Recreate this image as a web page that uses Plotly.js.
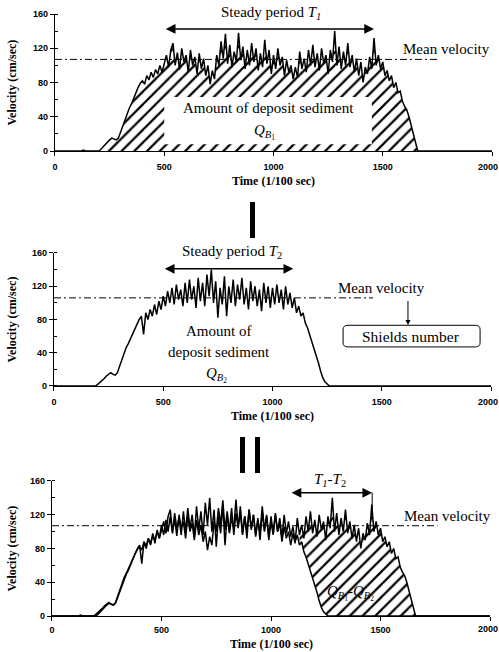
<!DOCTYPE html>
<html>
<head>
<meta charset="utf-8">
<script src="https://cdn.plot.ly/plotly-3.0.1.min.js"></script>
<style>html,body{margin:0;padding:0;background:#fff;}</style>
</head>
<body>
<div id="chart" style="width:499px;height:652px;"></div>
<script>
// ---- data ----
const timeStep = 10;              // 1/100 sec
const nSamples = 201;             // 0 .. 2000
const time = [];
for (let i = 0; i < nSamples; i++) time.push(i * timeStep);

// run 1 (steady period T1)
const velocity1 = [
  0,0,0,0,0,0,0,0,0,0,
  0,0,0,1,0,0,0,0,0,0,
  0,2,5,8,11,13,15,14,13,15,
  22,30,38,45,50,55,62,68,74,79,
  82,78,88,83,92,86,95,90,100,92,
  104,112,98,118,126,100,115,95,120,104,
  112,92,118,100,110,90,114,96,108,88,
  100,78,94,84,112,100,128,108,137,102,
  124,98,116,104,138,106,122,96,118,100,
  126,104,120,94,114,98,130,102,118,90,
  112,96,120,100,110,88,106,92,100,84,
  98,86,116,96,108,92,118,100,124,98,
  114,94,120,102,112,90,118,104,140,100,
  122,96,116,100,126,98,112,92,108,88,
  104,80,98,90,110,96,132,100,112,96,
  104,88,94,82,88,74,80,68,70,58,
  52,48,40,30,18,8,0,0,0,0,
  0,0,0,0,0,0,0,0,0,0,
  0,0,0,0,0,0,0,0,0,0,
  0,0,0,0,0,0,0,0,0,0,
  0
];

// run 2 (steady period T2)
const velocity2 = [
  0,0,0,0,0,0,0,0,0,0,
  0,0,0,0,0,0,0,0,0,0,
  2,4,7,9,12,14,16,14,13,16,
  24,32,40,46,51,57,64,70,76,80,
  84,62,88,80,92,84,98,86,102,92,
  108,96,114,100,118,98,122,104,116,96,
  124,100,128,104,120,94,130,102,124,96,
  134,108,140,100,126,82,118,98,132,84,
  120,100,128,96,122,104,130,98,118,92,
  126,102,120,96,116,90,124,100,120,94,
  118,98,122,100,116,92,120,98,112,94,
  106,88,96,84,88,76,70,62,52,44,
  36,28,18,10,5,2,0,0,0,0,
  0,0,0,0,0,0,0,0,0,0,
  0,0,0,0,0,0,0,0,0,0,
  0,0,0,0,0,0,0,0,0,0,
  0,0,0,0,0,0,0,0,0,0,
  0,0,0,0,0,0,0,0,0,0,
  0,0,0,0,0,0,0,0,0,0,
  0,0,0,0,0,0,0,0,0,0,
  0
];

const meanVelocity = [107, 106, 107];     // cm/sec, per panel
const meanLineEnd  = [1750, 1460, 1760];  // time where dash-dot line stops
const periodT1   = [500, 1460];
const periodT2   = [500, 1095];
const periodDiff = [1087, 1462];
const xTicks = [0, 500, 1000, 1500, 2000];
const xTickText = ['0', '500', '1000', '1500', ''];   // last label drawn flush with the page edge
const lastXTickLabel = '2000';
const yTicks = [0, 40, 80, 120, 160];

// ---- helpers ----
const BLACK = '#000';
const serif = 'Liberation Serif, Times New Roman, serif';
const sans = 'Liberation Sans, Arial, sans-serif';

function sliceBy(arr, t0, t1) {
  const out = [];
  for (let i = 0; i < time.length; i++) if (time[i] >= t0 && time[i] <= t1) out.push(arr[i]);
  return out;
}
const hatch = {shape: '/', fgcolor: BLACK, bgcolor: 'white', size: 9, solidity: 0.25};

const traces = [];
// panel 1: hatched area under run 1
traces.push({x: sliceBy(time, 200, 1670), y: sliceBy(velocity1, 200, 1670), xaxis: 'x', yaxis: 'y',
  type: 'scatter', mode: 'lines', line: {width: 0, color: BLACK}, fill: 'tozeroy',
  fillcolor: 'rgba(0,0,0,0)', fillpattern: hatch, hoverinfo: 'skip'});
// panel 3: hatched area between run 2 and run 1
traces.push({x: sliceBy(time, 1130, 1670), y: sliceBy(velocity2, 1130, 1670), xaxis: 'x3', yaxis: 'y3',
  type: 'scatter', mode: 'lines', line: {width: 0, color: BLACK}, hoverinfo: 'skip'});
traces.push({x: sliceBy(time, 1130, 1670), y: sliceBy(velocity1, 1130, 1670), xaxis: 'x3', yaxis: 'y3',
  type: 'scatter', mode: 'lines', line: {width: 0, color: BLACK}, fill: 'tonexty',
  fillcolor: 'rgba(0,0,0,0)', fillpattern: hatch, hoverinfo: 'skip'});

// mean velocity lines
[['x','y'],['x2','y2'],['x3','y3']].forEach((a, k) => {
  traces.push({x: [0, meanLineEnd[k]], y: [meanVelocity[k], meanVelocity[k]], xaxis: a[0], yaxis: a[1],
    type: 'scatter', mode: 'lines', line: {color: BLACK, width: 1, dash: '7px,3px,2px,3px'}, hoverinfo: 'skip'});
});

// velocity curves
const curveLine = {color: BLACK, width: 1.5};
traces.push({x: time, y: velocity1, xaxis: 'x', yaxis: 'y', type: 'scatter', mode: 'lines', line: curveLine});
traces.push({x: time, y: velocity2, xaxis: 'x2', yaxis: 'y2', type: 'scatter', mode: 'lines', line: curveLine});
traces.push({x: time, y: velocity1, xaxis: 'x3', yaxis: 'y3', type: 'scatter', mode: 'lines', line: curveLine});
traces.push({x: time, y: velocity2, xaxis: 'x3', yaxis: 'y3', type: 'scatter', mode: 'lines', line: curveLine});

const tickFont = {family: sans, size: 9, color: BLACK, weight: 'bold'};
const xBase = {range: [0, 2000], tickvals: xTicks, ticktext: xTickText, showline: true, linecolor: BLACK, linewidth: 1.2,
  ticks: 'outside', ticklen: 4, tickwidth: 1, tickcolor: BLACK, showgrid: false, zeroline: false,
  tickfont: tickFont, ticklabelstandoff: 3, fixedrange: true};
const yBase = {range: [0, 160], tickvals: yTicks, showline: true, linecolor: BLACK, linewidth: 1.2,
  ticks: 'outside', ticklen: 4, tickwidth: 1, tickcolor: BLACK, showgrid: false, zeroline: false,
  minor: {ticks: 'inside', ticklen: 3, dtick: 20, tickcolor: BLACK, tickwidth: 1},
  tickfont: tickFont, fixedrange: true};

const dom = {
  x1: [0.1102, 0.9860], y1: [0.7684, 0.9785],
  x2: [0.1082, 0.9840], y2: [0.4080, 0.6120],
  x3: [0.1042, 0.9820], y3: [0.0552, 0.2623]
};

const ann = [];
function label(xr, yr, x, y, text, size, yshift) {
  ann.push({xref: xr, yref: yr, x: x, y: y, text: text, showarrow: false,
    font: {family: serif, size: size || 15, color: BLACK},
    xanchor: 'center', yanchor: 'middle', yshift: yshift || 0});
}
function dblArrow(xr, yr, x0, x1, y) {
  ann.push({xref: xr, yref: yr, axref: xr, ayref: yr, x: x1, y: y, ax: x0, ay: y, text: '',
    showarrow: true, arrowhead: 2, startarrowhead: 2, arrowside: 'end+start', arrowsize: 1.3,
    startarrowsize: 1.3, arrowwidth: 1.5, arrowcolor: BLACK, standoff: 0, startstandoff: 0});
}

// panel 1
label('x', 'y', 990, 160, 'Steady period <i>T</i><sub><i>1</i></sub>', 15, 1);
dblArrow('x', 'y', periodT1[0], periodT1[1], 142.5);
label('x', 'y', 1790, 119, 'Mean velocity');
label('x', 'y', 975, 50, 'Amount of deposit sediment');
label('x', 'y', 960, 22, '<i>Q</i><sub><i>B</i><sub>1</sub></sub>');
// panel 2
label('x2', 'y2', 815, 160, 'Steady period <i>T</i><sub>2</sub>', 15, 1);
dblArrow('x2', 'y2', periodT2[0], periodT2[1], 141);
label('x2', 'y2', 1497, 118, 'Mean velocity');
label('x2', 'y2', 755, 66, 'Amount of');
label('x2', 'y2', 755, 41, 'deposit sediment');
label('x2', 'y2', 745, 13, '<i>Q</i><sub><i>B</i><sub>2</sub></sub>');
label('x2', 'y2', 1634, 60, 'Shields number', 15.5);
ann.push({xref: 'x2', yref: 'y2', axref: 'x2', ayref: 'y2', x: 1620, y: 73.5, ax: 1620, ay: 104,
  text: '', showarrow: true, arrowhead: 2, arrowsize: 1, arrowwidth: 1, arrowcolor: BLACK, standoff: 0});
// panel 3
label('x3', 'y3', 1269, 160, '<i>T</i><sub><i>1</i></sub>-<i>T</i><sub>2</sub>', 15, 1);
dblArrow('x3', 'y3', periodDiff[0], periodDiff[1], 146);
label('x3', 'y3', 1804, 119, 'Mean velocity');
label('x3', 'y3', 1361, 27, '<i>Q</i><sub><i>B</i><sub>1</sub></sub>-<i>Q</i><sub><i>B</i><sub>2</sub></sub>');

// axis titles and the right-most time tick label of each panel
const axTitleFont = {family: serif, size: 12, color: BLACK, weight: 'bold'};
[[dom.x1, dom.y1, 181, 167], [dom.x2, dom.y2, 416, 402], [dom.x3, dom.y3, 644, 629]].forEach(d => {
  ann.push({xref: 'paper', yref: 'paper', x: 12 / 499, y: (d[1][0] + d[1][1]) / 2, text: 'Velocity (cm/sec)',
    textangle: -90, showarrow: false, font: axTitleFont, xanchor: 'center', yanchor: 'middle'});
  ann.push({xref: 'paper', yref: 'paper', x: (d[0][0] + d[0][1]) / 2, y: 1 - d[2] / 652, text: 'Time (1/100 sec)',
    showarrow: false, font: axTitleFont, xanchor: 'center', yanchor: 'middle'});
  ann.push({xref: 'paper', yref: 'paper', x: 1, y: 1 - d[3] / 652, text: lastXTickLabel,
    showarrow: false, font: tickFont, xanchor: 'right', yanchor: 'middle', borderpad: 0, xshift: 0});
});

const shapes = [
  // white background behind the top text block
  {type: 'rect', xref: 'x', yref: 'y', x0: 500, x1: 1450, y0: 8, y1: 63, fillcolor: 'white',
    line: {width: 0}, layer: 'above'},
  // rounded box around "Shields number"
  {type: 'path', xref: 'x2', yref: 'y2', layer: 'above', line: {color: BLACK, width: 1},
    path: 'M 1345,47 L 1928,47 Q 1950,47 1950,52 L 1950,68 Q 1950,73 1928,73 L 1345,73 Q 1323,73 1323,68 L 1323,52 Q 1323,47 1345,47 Z'},
  // end marker of T1 in panel 3
  {type: 'line', xref: 'x3', yref: 'y3', x0: periodDiff[1], x1: periodDiff[1], y0: 146, y1: 112,
    line: {color: BLACK, width: 1}},
  // separator glyphs
  {type: 'rect', xref: 'paper', yref: 'paper', x0: 250 / 499, x1: 255 / 499, y0: 1 - 238 / 652, y1: 1 - 202 / 652,
    fillcolor: BLACK, line: {width: 0}},
  {type: 'rect', xref: 'paper', yref: 'paper', x0: 240 / 499, x1: 245 / 499, y0: 1 - 473 / 652, y1: 1 - 437 / 652,
    fillcolor: BLACK, line: {width: 0}},
  {type: 'rect', xref: 'paper', yref: 'paper', x0: 255 / 499, x1: 260 / 499, y0: 1 - 473 / 652, y1: 1 - 437 / 652,
    fillcolor: BLACK, line: {width: 0}}
];

const layout = {
  width: 499, height: 652, autosize: false,
  margin: {l: 0, r: 0, t: 0, b: 0},
  paper_bgcolor: 'white', plot_bgcolor: 'white', showlegend: false,
  xaxis:  Object.assign({}, xBase, {domain: dom.x1, anchor: 'y'}),
  yaxis:  Object.assign({}, yBase, {domain: dom.y1, anchor: 'x'}),
  xaxis2: Object.assign({}, xBase, {domain: dom.x2, anchor: 'y2'}),
  yaxis2: Object.assign({}, yBase, {domain: dom.y2, anchor: 'x2'}),
  xaxis3: Object.assign({}, xBase, {domain: dom.x3, anchor: 'y3', ticklabelstandoff: 1}),
  yaxis3: Object.assign({}, yBase, {domain: dom.y3, anchor: 'x3'}),
  annotations: ann,
  shapes: shapes
};

Plotly.newPlot('chart', traces, layout, {staticPlot: true, displayModeBar: false});
</script>
</body>
</html>
